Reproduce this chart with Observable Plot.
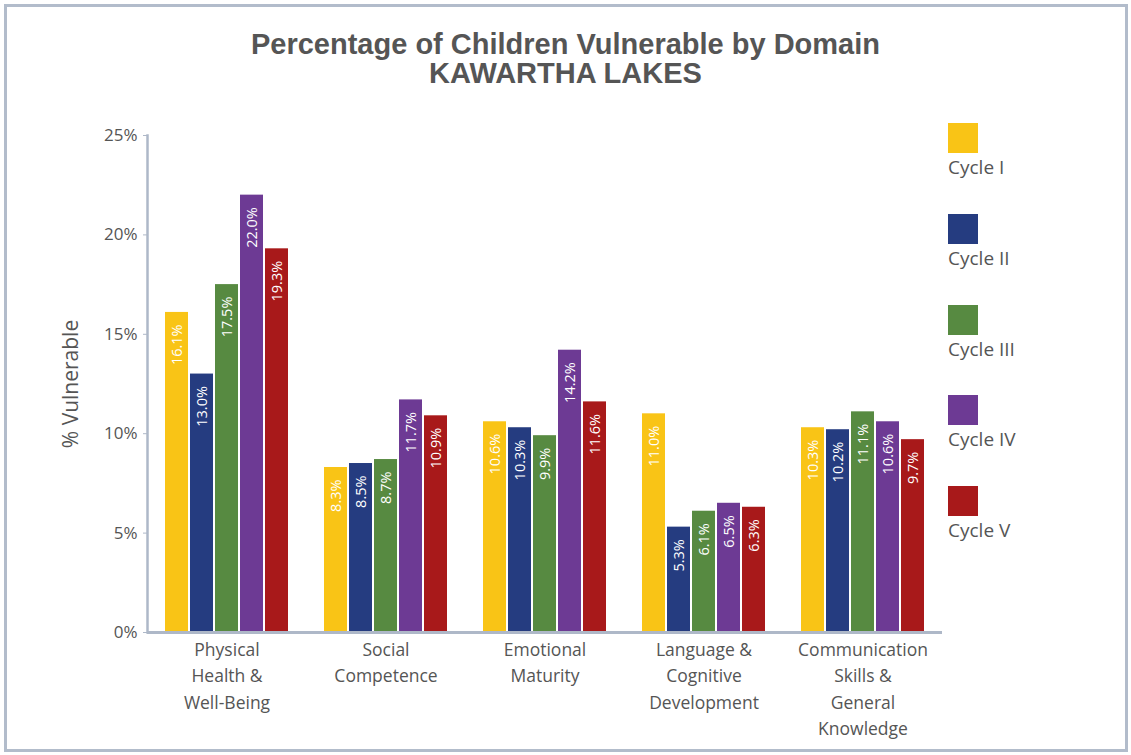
<!DOCTYPE html>
<html>
<head>
<meta charset="utf-8">
<script src="https://cdn.jsdelivr.net/npm/d3@7"></script>
<script src="https://cdn.jsdelivr.net/npm/@observablehq/plot@0.6"></script>
<style>
  html, body { margin: 0; padding: 0; background: #fff; }
  #wrap { position: relative; width: 1131px; height: 755px; background: #fff; overflow: hidden; font-family: "Open Sans", sans-serif; color: #555; }
  #border { position: absolute; left: 4px; top: 4px; width: 1118px; height: 742px; border: 3px solid #b2bccb; }
  #title { position: absolute; left: 0; top: 30px; width: 1131px; text-align: center; font-family: "Liberation Sans Narrow", "Liberation Sans", sans-serif; font-weight: bold; font-size: 29px; line-height: 29px; color: #555; }
  #chart { position: absolute; left: 0; top: 100px; }
  #legend { position: absolute; left: 948px; top: 123px; }
  .item { position: absolute; left: 0; width: 140px; }
  .sw { width: 30px; height: 30px; }
  .lab { font-size: 19px; color: #555; margin-top: 2px; line-height: 24px; }
</style>
</head>
<body>
<div id="wrap">
  <div id="border"></div>
  <div id="title"></div>
  <div id="chart"></div>
  <div id="legend"></div>
</div>
<script>
const titleLines = ["Percentage of Children Vulnerable by Domain", "KAWARTHA LAKES"];
const domains = ["Physical Health & Well-Being", "Social Competence", "Emotional Maturity", "Language & Cognitive Development", "Communication Skills & General Knowledge"];
const domainLabels = ["Physical\nHealth &\nWell-Being", "Social\nCompetence", "Emotional\nMaturity", "Language &\nCognitive\nDevelopment", "Communication\nSkills &\nGeneral\nKnowledge"];
const cycles = ["Cycle I", "Cycle II", "Cycle III", "Cycle IV", "Cycle V"];
const colors = ["#F9C416", "#253C80", "#578A41", "#6D3A94", "#A8191A"];
const cycleI   = [16.1, 8.3, 10.6, 11.0, 10.3];
const cycleII  = [13.0, 8.5, 10.3, 5.3, 10.2];
const cycleIII = [17.5, 8.7, 9.9, 6.1, 11.1];
const cycleIV  = [22.0, 11.7, 14.2, 6.5, 10.6];
const cycleV   = [19.3, 10.9, 11.6, 6.3, 9.7];
const yTicks = [0, 5, 10, 15, 20, 25];
const yLabel = "% Vulnerable";

const series = [cycleI, cycleII, cycleIII, cycleIV, cycleV];
const data = [];
domains.forEach((d, i) => cycles.forEach((c, j) => data.push({domain: d, cycle: c, value: series[j][i]})));

document.getElementById("title").innerHTML = titleLines.join("<br>");

const axisColor = "#aeb8c8";
const chart = Plot.plot({
  width: 1131,
  height: 655,
  marginTop: 35,
  marginBottom: 123,
  marginLeft: 146,
  marginRight: 188,
  style: {fontFamily: "'Open Sans', sans-serif", color: "#555", background: "transparent"},
  fx: {domain: domains, paddingInner: 0, paddingOuter: 0, label: null},
  x: {domain: cycles, paddingInner: 0.08, paddingOuter: 0.6, axis: null},
  y: {domain: [0, 25], label: null},
  color: {domain: cycles, range: colors},
  marks: [
    Plot.barY(data, {fx: "domain", x: "cycle", y: "value", fill: "cycle"}),
    Plot.text(data, {fx: "domain", x: "cycle", y: "value", text: d => d.value.toFixed(1) + "%", rotate: -90, textAnchor: "end", lineAnchor: "middle", dy: 12, fill: "white", fontSize: 14.5}),
    Plot.ruleY([0], {stroke: axisColor, strokeWidth: 3}),
    Plot.frame({anchor: "left", facetAnchor: "left", stroke: axisColor, strokeWidth: 2.5}),
    Plot.axisY({ticks: yTicks, tickFormat: d => d + "%", tickSize: 4, tickPadding: 6, stroke: axisColor, fill: "#555", fontSize: 17, label: null}),
    Plot.text([yLabel], {frameAnchor: "left", facetAnchor: "left", textAnchor: "middle", lineAnchor: "middle", dx: -76, rotate: -90, text: d => d, fontSize: 21, fill: "#555"}),
    Plot.axisFx({anchor: "bottom", tickSize: 0, tickPadding: 5, fontSize: 17.5, lineHeight: 1.5, fill: "#555", label: null, tickFormat: d => domainLabels[domains.indexOf(d)]})
  ]
});
document.getElementById("chart").appendChild(chart);
const legend = document.getElementById("legend");
cycles.forEach((c, i) => {
  const it = document.createElement("div");
  it.className = "item";
  it.style.top = (i * 90.75) + "px";
  it.innerHTML = `<div class="sw" style="background:${colors[i]}"></div><div class="lab">${c}</div>`;
  legend.appendChild(it);
});
</script>
</body>
</html>
